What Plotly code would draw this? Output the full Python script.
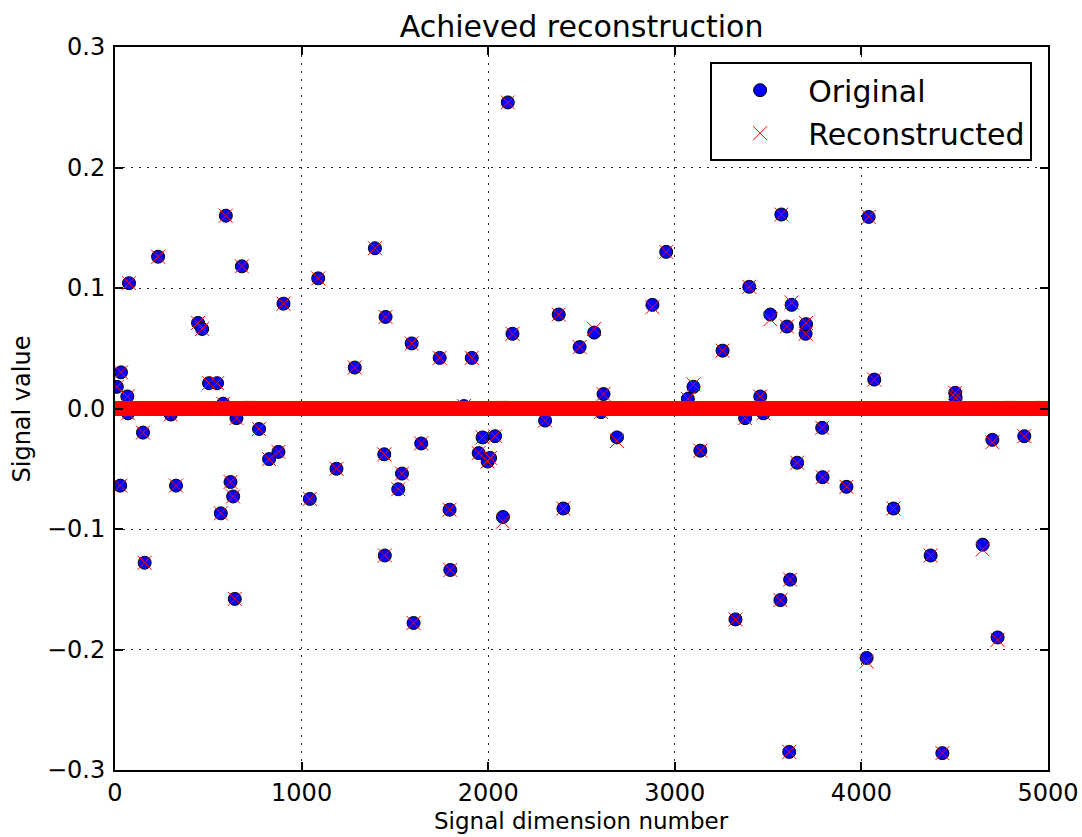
import numpy as np
import plotly.graph_objects as go

n_dims = 5000
support_idx = [10, 28, 32, 66, 70, 75, 150, 159, 231, 299, 327, 445, 467, 504, 547, 567, 580, 594,
               619, 633, 642, 651, 680, 772, 826, 876, 903, 1044, 1089, 1187, 1285, 1393, 1443,
               1446, 1450, 1518, 1538, 1590, 1600, 1641, 1740, 1793, 1797, 1870, 1912, 1949, 1970,
               1997, 2010, 2037, 2079, 2105, 2130, 2305, 2378, 2403, 2490, 2568, 2605, 2618, 2690,
               2880, 2954, 3070, 3100, 3137, 3256, 3325, 3377, 3399, 3458, 3475, 3512, 3566, 3571,
               3601, 3613, 3618, 3626, 3656, 3701, 3703, 3790, 3792, 3920, 4028, 4039, 4069, 4172,
               4371, 4434, 4503, 4505, 4650, 4702, 4730, 4873]
orig_vals = [0.018, -0.064, 0.030, 0.010, -0.004, 0.104, -0.020, -0.128, 0.126, -0.005, -0.064,
             0.071, 0.066, 0.021, 0.021, -0.087, 0.004, 0.160, -0.061, -0.073, -0.158, -0.008,
             0.118, -0.017, -0.042, -0.036, 0.087, -0.075, 0.108, -0.050, 0.034, 0.133, -0.038,
             -0.122, 0.076, -0.067, -0.054, 0.054, -0.178, -0.029, 0.042, -0.084, -0.134, 0.002,
             0.042, -0.037, -0.024, -0.044, -0.041, -0.023, -0.090, 0.254, 0.062, -0.010, 0.078,
             -0.083, 0.051, 0.063, -0.003, 0.012, -0.024, 0.086, 0.130, 0.008, 0.018, -0.035,
             0.048, -0.175, -0.008, 0.101, 0.010, -0.004, 0.078, -0.159, 0.161, 0.068, -0.285,
             -0.142, 0.086, -0.045, 0.062, 0.070, -0.016, -0.057, -0.065, -0.207, 0.159, 0.024,
             -0.083, -0.122, -0.286, 0.013, 0.009, -0.113, -0.026, -0.190, -0.023]
recon_overrides = {2079: -0.094, 2568: 0.066, 2690: -0.027, 2880: 0.084, 3100: 0.020,
                   3512: 0.074, 3626: 0.088, 3703: 0.071, 4028: -0.210, 4650: -0.117,
                   4702: -0.028, 4730: -0.192}

title_text = "Achieved reconstruction"
x_label = "Signal dimension number"
y_label = "Signal value"

dims = np.arange(n_dims)
original = np.zeros(n_dims)
original[support_idx] = orig_vals
reconstructed = original.copy()
for k, v in recon_overrides.items():
    reconstructed[k] = v

FONT = "DejaVu Sans"
fig = go.Figure()
fig.add_trace(go.Scatter(x=dims, y=original, mode="markers", name="Original",
                         legendgroup="a",
                         marker=dict(symbol="circle", size=13, color="#0000ff",
                                     line=dict(color="black", width=1))))
fig.add_trace(go.Scatter(x=dims, y=reconstructed, mode="markers", name="Reconstructed",
                         legendgroup="b",
                         marker=dict(symbol="x-thin", size=14,
                                     line=dict(color="#ff0000", width=1))))

axis_common = dict(showline=True, linecolor="black", linewidth=2, mirror="allticks",
                   ticks="inside", ticklen=8, tickwidth=1.5, tickcolor="black",
                   showgrid=True, gridcolor="#222222", griddash="2px,6px", gridwidth=1,
                   zeroline=False, automargin=False,
                   tickfont=dict(family=FONT, size=24, color="black"))
fig.update_xaxes(range=[0, 5000], dtick=1000, tick0=0, ticklabelstandoff=0, **axis_common)
fig.update_yaxes(range=[-0.3, 0.3], dtick=0.1, tick0=0, tickformat=".1f",
                 ticklabelstandoff=3, **axis_common)

fig.add_annotation(text=x_label, xref="paper", yref="paper", x=0.5, y=-0.0705,
                   xanchor="center", yanchor="middle", showarrow=False,
                   font=dict(family=FONT, size=23, color="black"))
fig.add_annotation(text=y_label, xref="paper", yref="paper", x=-0.0997, y=0.5,
                   xanchor="center", yanchor="middle", showarrow=False, textangle=-90,
                   font=dict(family=FONT, size=24, color="black"))

fig.update_layout(
    width=1082, height=837,
    margin=dict(l=115, r=34, t=47, b=67),
    paper_bgcolor="white", plot_bgcolor="white",
    title=dict(text=title_text, x=0.5375, xanchor="center", y=0.968, yanchor="middle",
               font=dict(family=FONT, size=30, color="black")),
    showlegend=True,
    legend=dict(x=0.983, xanchor="right", y=0.979, yanchor="top",
                bordercolor="black", borderwidth=2, bgcolor="white",
                font=dict(family=FONT, size=30, color="black"),
                traceorder="grouped", tracegroupgap=1, itemwidth=86),
)
fig.write_html("out.html")
